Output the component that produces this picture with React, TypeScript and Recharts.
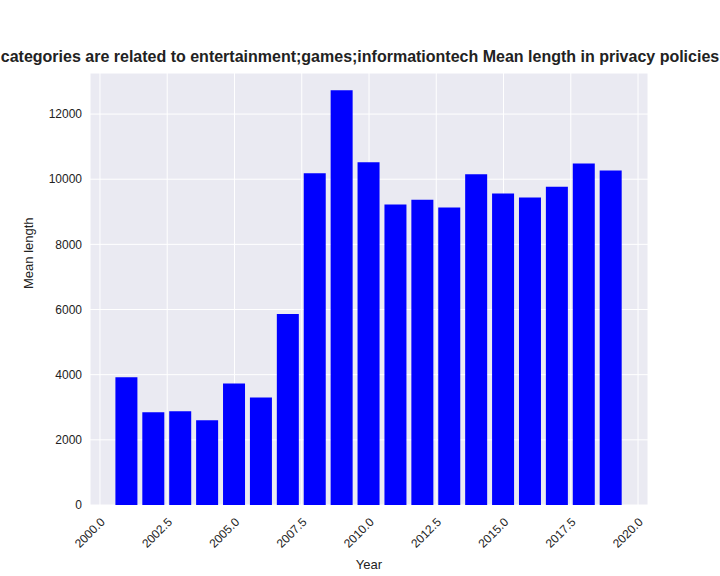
import { BarChart, Bar, XAxis, YAxis, CartesianGrid } from 'recharts'

const years = [2001, 2002, 2003, 2004, 2005, 2006, 2007, 2008, 2009, 2010, 2011, 2012, 2013, 2014, 2015, 2016, 2017, 2018, 2019]
const meanLength = [3920, 2850, 2880, 2600, 3730, 3300, 5860, 10180, 12730, 10520, 9220, 9370, 9130, 10150, 9560, 9440, 9770, 10480, 10270]
const xTicks = [2000, 2002.5, 2005, 2007.5, 2010, 2012.5, 2015, 2017.5, 2020]
const yTicks = [0, 2000, 4000, 6000, 8000, 10000, 12000]

const data = years.map((year, i) => ({ year, value: meanLength[i] }))

const XTick = ({ x, y, payload }: any) => (
  <text x={x} y={y + 4} textAnchor="end" fontSize={12} fill="#222" transform={`rotate(-45, ${x}, ${y + 4})`} dy={8}>
    {payload.value.toFixed(1)}
  </text>
)

export default function App() {
  const font = 'Arial, "Liberation Sans", sans-serif'
  return (
    <div style={{ position: 'absolute', left: 0, top: 0, width: 720, height: 576, background: '#fff', fontFamily: font, overflow: 'hidden' }}>
      <div style={{ position: 'absolute', top: 48, left: -200, width: 1120, textAlign: 'center', fontSize: 16, fontWeight: 700, color: '#222', whiteSpace: 'nowrap' }}>
        categories are related to entertainment;games;informationtech Mean length in privacy policies
      </div>
      <BarChart width={720} height={576} data={data} margin={{ top: 73, right: 72, bottom: 21, left: 0 }} barSize={22}>
        <CartesianGrid fill="#eaeaf2" stroke="#fff" strokeWidth={1} />
        <XAxis dataKey="year" type="number" domain={[1999.63, 2020.37]} ticks={xTicks} tick={<XTick />} axisLine={false} tickLine={false} height={50}
          label={{ value: 'Year', position: 'insideBottom', offset: -14, fontSize: 13, fill: '#222' }} />
        <YAxis type="number" domain={[0, 13260]} ticks={yTicks} axisLine={false} tickLine={false} width={90} tick={{ fontSize: 12, fill: '#222' }}
          label={{ value: 'Mean length', angle: -90, position: 'insideLeft', offset: 28, fontSize: 13, fill: '#222' }} />
        <Bar dataKey="value" fill="#0000ff" isAnimationActive={false} />
      </BarChart>
    </div>
  )
}
